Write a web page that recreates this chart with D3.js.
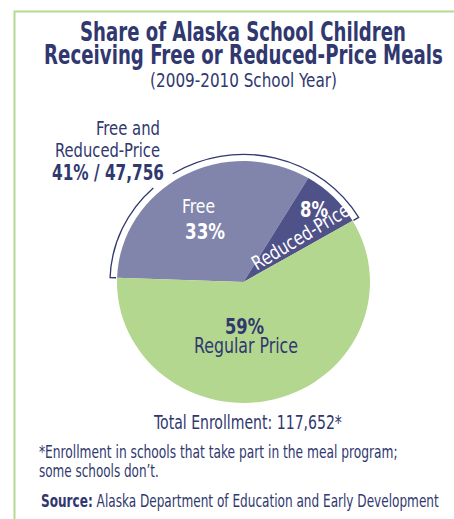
<!DOCTYPE html>
<html>
<head>
<meta charset="utf-8">
<script src="https://cdn.jsdelivr.net/npm/d3@7.9.0/dist/d3.min.js"></script>
<style>
  body { margin: 0; background: #fff; }
  svg text { font-family: "Liberation Sans Narrow", "DejaVu Sans Condensed", "Noto Sans", sans-serif; }
</style>
</head>
<body>
<svg id="chart" width="454" height="519"></svg>
<script>
// data
const sliceNames = ['Free', 'Reduced-Price', 'Regular Price'];
const sliceShares = [33, 8, 59];
const sliceColors = ['#8185ab', '#4f5289', '#b3d78e'];
const groupShare = 41;
const groupCount = 47756;
const totalEnrollment = 117652;

const titleLines = ['Share of Alaska School Children', 'Receiving Free or Reduced-Price Meals'];
const subtitle = '(2009-2010 School Year)';
const noteLines = ['*Enrollment in schools that take part in the meal program;', 'some schools don\u2019t.'];
const sourceText = 'Alaska Department of Education and Early Development';

const navy = '#30386f';
const svg = d3.select('#chart');

// frame (top + left green rule)
svg.append('path')
  .attr('d', 'M14.5,519 V11.5 H454')
  .attr('fill', 'none')
  .attr('stroke', '#b5da90')
  .attr('stroke-width', 2);

// text squeezed horizontally to the condensed width of the original
function addText(x, y, str, o = {}) {
  let wrap = svg.append('g');
  let t = wrap.append('text')
    .attr('text-anchor', o.anchor || 'middle')
    .attr('font-size', o.size || 20)
    .attr('font-weight', o.bold ? 'bold' : 'normal')
    .attr('fill', o.color || navy);
  if (o.parts) {
    o.parts.forEach(p => t.append('tspan').attr('font-weight', p.bold ? 'bold' : 'normal').text(p.text));
  } else {
    t.text(str);
  }
  let sx = o.len ? o.len / t.node().getComputedTextLength() : 1;
  wrap.attr('transform', `translate(${x},${y}) rotate(${o.rotate || 0}) scale(${sx},1)`);
  return t;
}

// title
addText(243, 40.5, titleLines[0], { size: 26, bold: true, len: 326 });
addText(243.5, 63.5, titleLines[1], { size: 26, bold: true, len: 399 });
addText(243.5, 87, subtitle, { size: 19, len: 187 });

// pie
const R = 126.5;
const a0 = -88 * Math.PI / 180;
const pie = d3.pie().sort(null).startAngle(a0).endAngle(a0 + 2 * Math.PI);
const arcs = pie(sliceShares);
const arc = d3.arc().innerRadius(0).outerRadius(R);

const g = svg.append('g').attr('transform', 'translate(243.5,282) scale(1,0.956)');
g.selectAll('path.slice')
  .data(arcs)
  .join('path')
  .attr('class', 'slice')
  .attr('d', arc)
  .attr('fill', (d, i) => sliceColors[i]);

// bracket around free + reduced, broken where the label sits
const toXY = (r, a) => [r * Math.sin(a), -r * Math.cos(a)];
const bStart = arcs[0].startAngle, bEnd = arcs[1].endAngle;
const gap0 = -42.5 * Math.PI / 180, gap1 = -32 * Math.PI / 180;
const rIn = R + 1, rOut = R + 7;
const bp = d3.path();
bp.moveTo(...toXY(rIn, bStart));
bp.lineTo(...toXY(rOut, bStart));
bp.arc(0, 0, rOut, bStart - Math.PI / 2, gap0 - Math.PI / 2);
bp.moveTo(...toXY(rOut, gap1));
bp.arc(0, 0, rOut, gap1 - Math.PI / 2, bEnd - Math.PI / 2);
bp.lineTo(...toXY(rIn, bEnd));
g.append('path')
  .attr('d', bp.toString())
  .attr('fill', 'none')
  .attr('stroke', navy)
  .attr('stroke-width', 1.3)
  .attr('vector-effect', 'non-scaling-stroke');

// group label
addText(160, 135, 'Free and', { anchor: 'end', size: 20, len: 64 });
addText(160, 157, 'Reduced-Price', { anchor: 'end', size: 20, len: 105 });
addText(164, 180, `${groupShare}% / ${d3.format(',')(groupCount)}`, { anchor: 'end', size: 21, bold: true, len: 112 });

// slice labels
addText(198.5, 212.5, sliceNames[0], { size: 20, color: '#fff', len: 33 });
addText(205, 239, sliceShares[0] + '%', { size: 21, bold: true, color: '#fff', len: 40 });
addText(314, 217, sliceShares[1] + '%', { size: 21, bold: true, color: '#fff', len: 28 });
addText(304, 242.5, sliceNames[1], { size: 19.5, color: '#fff', len: 110, rotate: -31 });
addText(244.5, 334, sliceShares[2] + '%', { size: 21, bold: true, len: 39 });
addText(246, 353, sliceNames[2], { size: 22, len: 104 });

// footer
addText(248, 429, `Total Enrollment: ${d3.format(',')(totalEnrollment)}*`, { size: 19.5, len: 188 });
addText(39, 458, noteLines[0], { anchor: 'start', size: 18, len: 359 });
addText(39, 477, noteLines[1], { anchor: 'start', size: 18, len: 120 });
addText(41, 507, null, {
  anchor: 'start', size: 18, len: 398,
  parts: [{ text: 'Source:', bold: true }, { text: ' ' + sourceText }]
});
</script>
</body>
</html>
